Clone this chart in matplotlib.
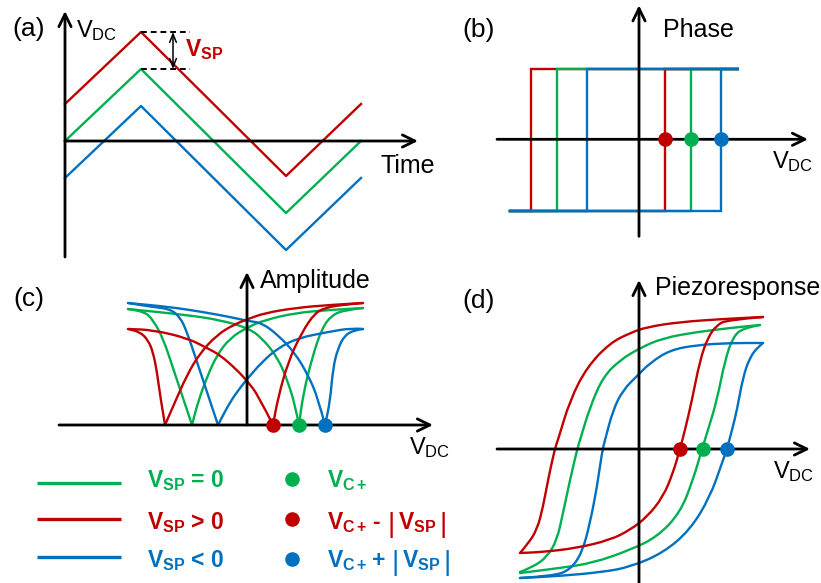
import matplotlib
matplotlib.use('Agg')
import matplotlib.pyplot as plt
from matplotlib.path import Path
from matplotlib.patches import PathPatch

plt.rcParams['font.family'] = ['Liberation Sans', 'DejaVu Sans']
plt.rcParams['mathtext.fontset'] = 'custom'
plt.rcParams['mathtext.rm'] = 'Liberation Sans'
plt.rcParams['mathtext.bf'] = 'Liberation Sans:bold'
plt.rcParams['mathtext.it'] = 'Liberation Sans:italic'
plt.rcParams['mathtext.sf'] = 'Liberation Sans'

W, H = 821, 583
RED, GREEN, BLUE = '#C00000', '#00B050', '#0070C0'

# ---------------- data (arbitrary units) ----------------
# (a) triangular DC waveform vs time
a_time = [0, 76, 221, 296]
a_green = [0, 72, -72, 0]
a_red = [37, 109, -35, 37]
a_blue = [-37, 35, -109, -37]

# (b) phase loops: switching voltages (left, right) and phase levels
b_sweep = [-129, 100]
b_levels = [-72, 70]
b_red_switch = [-108, 26]
b_green_switch = [-82, 52]
b_blue_switch = [-52, 82]

# (c) amplitude butterfly branches
c_green_a_v = [-119, -102, -94, -84, -74, -64, -55, -49, -40, -30, -17, 1, 18, 48, 81, 116]
c_green_a_amp = [116, 113, 105, 87, 57, 27, 0, 23, 48, 70, 87, 98, 105, 112, 115, 117]
c_green_b_v = [-119, -60, -27, 1, 15, 31, 41, 48, 52, 56, 65, 75, 85, 98, 116]
c_green_b_amp = [116, 110, 105, 97, 87, 67, 43, 20, 0, 30, 67, 97, 110, 115, 117]
c_red_a_v = [-119, -107, -99, -94, -90, -87, -82, -72, -60, -47, -30, -14, 1, 18, 48, 81, 116]
c_red_a_amp = [96, 93, 85, 73, 53, 30, 0, 23, 50, 72, 90, 100, 106, 112, 117, 120, 122]
c_red_b_v = [-119, -94, -60, -40, -27, -10, 1, 11, 26, 31, 41, 55, 68, 78, 93, 116]
c_red_b_amp = [96, 95, 87, 77, 70, 55, 43, 30, 0, 27, 63, 93, 112, 117, 120, 122]
c_blue_a_v = [-119, -94, -77, -67, -60, -50, -40, -29, -17, -7, 1, 15, 31, 51, 81, 105, 116]
c_blue_a_amp = [122, 118, 116, 108, 93, 63, 33, 0, 23, 37, 47, 63, 77, 87, 93, 97, 96]
c_blue_b_v = [-119, -77, -44, -17, 1, 15, 31, 48, 61, 71, 78, 83, 86, 91, 98, 108, 116]
c_blue_b_amp = [122, 118, 113, 108, 104, 102, 90, 72, 50, 27, 0, 23, 57, 77, 90, 95, 96]
c_dots = [26, 52, 78]

# (d) piezoresponse hysteresis loops
d_red_up_v = [124, 84, 41, 8, -9, -29, -52, -69, -81, -84, -91, -96, -102, -112, -119]
d_red_up_p = [132, 130, 127, 122, 116, 106, 82, 49, 9, 1, -31, -58, -81, -96, -104]
d_red_lo_v = [-119, -96, -62, -29, -9, 8, 24, 34, 41, 46, 53, 61, 69, 78, 88, 124]
d_red_lo_p = [-104, -103, -99, -91, -81, -68, -48, -24, 0, 19, 49, 89, 112, 124, 129, 132]
d_green_up_v = [121, 91, 58, 24, 1, -19, -36, -49, -59, -62, -69, -76, -82, -92, -106, -119]
d_green_up_p = [124, 121, 117, 111, 101, 89, 72, 42, 9, -1, -31, -64, -91, -108, -118, -123]
d_green_lo_v = [-119, -79, -46, -9, 18, 41, 54, 63, 69, 78, 86, 94, 104, 121]
d_green_lo_p = [-124, -119, -114, -101, -88, -64, -31, 0, 19, 49, 89, 112, 121, 124]
d_blue_up_v = [124, 91, 58, 31, 11, -1, -16, -26, -34, -37, -42, -49, -57, -69, -86, -119]
d_blue_up_p = [106, 106, 104, 99, 86, 74, 59, 39, 9, -3, -38, -74, -104, -121, -127, -129]
d_blue_lo_v = [-119, -79, -36, -9, 24, 51, 71, 83, 88, 93, 98, 104, 111, 119, 124]
d_blue_lo_p = [-129, -127, -123, -118, -104, -81, -48, -14, 0, 19, 39, 72, 92, 102, 106]
d_dots = [41, 64, 88]

legend_line_labels = [r'$\mathbf{V_{SP}}$ = 0', r'$\mathbf{V_{SP}}$ > 0', r'$\mathbf{V_{SP}}$ < 0']
legend_dot_ops = [None, '-', '+']          # V_C+ (op) |V_SP|
legend_colors = [GREEN, RED, BLUE]

# ---------------- figure ----------------
fig = plt.figure(figsize=(W / 100, H / 100), dpi=100)
renderer = fig.canvas.get_renderer()

LW = 1.7
AX_LW = 2.0
DOT_MS = 9.5
LABEL_FS = 18
PANEL_FS = 19
LEG_FS = 16.5
ARROW = dict(arrowstyle='->,head_length=0.45,head_width=0.22', lw=AX_LW, color='black',
             shrinkA=0, shrinkB=0, mutation_scale=20)


def panel_axes(ox, oy):
    ax = fig.add_axes([0, 0, 1, 1])
    ax.set_xlim(-ox, W - ox)
    ax.set_ylim(oy - H, oy)
    ax.axis('off')
    ax.patch.set_alpha(0)
    return ax


def ftext(x, y, s, **kw):
    kw.setdefault('va', 'baseline')
    kw.setdefault('ha', 'left')
    return fig.text(x / W, 1 - y / H, s, **kw)


def text_run(x, y, pieces, color):
    """Lay out text pieces left to right: (string, fontsize, weight, gap_before, dy)."""
    for s, fs, wt, gap, dy in pieces:
        x += gap
        t = ftext(x, y + dy, s, fontsize=fs, fontweight=wt, color=color)
        x += t.get_window_extent(renderer).width


def axis_arrows(ax, xspan, yspan):
    ax.annotate('', xy=(xspan[1], 0), xytext=(xspan[0], 0), arrowprops=ARROW)
    ax.annotate('', xy=(0, yspan[1]), xytext=(0, yspan[0]), arrowprops=ARROW)


def smooth_curve(ax, xs, ys, color, breaks=()):
    """Draw a smooth curve through the read points (quadratic Bezier rendering),
    keeping sharp corners at the given indices."""
    cuts = [0] + sorted(breaks) + [len(xs) - 1]
    for s, e in zip(cuts[:-1], cuts[1:]):
        pts = list(zip(xs[s:e + 1], ys[s:e + 1]))
        if len(pts) < 3:
            verts, codes = pts, [Path.MOVETO] + [Path.LINETO] * (len(pts) - 1)
        else:
            verts = [pts[0]]
            codes = [Path.MOVETO]
            m = ((pts[0][0] + pts[1][0]) / 2, (pts[0][1] + pts[1][1]) / 2)
            verts.append(m)
            codes.append(Path.LINETO)
            for i in range(1, len(pts) - 1):
                nxt = pts[i + 1] if i == len(pts) - 2 else (
                    (pts[i][0] + pts[i + 1][0]) / 2, (pts[i][1] + pts[i + 1][1]) / 2)
                verts += [pts[i], nxt]
                codes += [Path.CURVE3, Path.CURVE3]
        ax.add_patch(PathPatch(Path(verts, codes), fill=False, edgecolor=color,
                               lw=LW, capstyle='round', joinstyle='round'))


# (a)
ax = panel_axes(65, 141)
axis_arrows(ax, (0, 353), (-116, 130))
ax.plot(a_time, a_red, color=RED, lw=LW)
ax.plot(a_time, a_green, color=GREEN, lw=LW)
ax.plot(a_time, a_blue, color=BLUE, lw=LW)
ax.plot([a_time[1], 125], [a_red[1], a_red[1]], color='black', lw=1.4, ls=(0, (3, 2)))
ax.plot([a_time[1], 125], [a_green[1], a_green[1]], color='black', lw=1.4, ls=(0, (3, 2)))
ax.annotate('', xy=(108, a_red[1]), xytext=(108, a_green[1]),
            arrowprops=dict(arrowstyle='<->,head_length=0.5,head_width=0.2', lw=1.1,
                            color='black', shrinkA=0, shrinkB=0, mutation_scale=12))
ftext(12, 36, '(a)', fontsize=PANEL_FS)
ftext(76, 37, r'$\mathrm{V_{DC}}$', fontsize=17)
ftext(380, 173, 'Time', fontsize=LABEL_FS)
ftext(185, 56, r'$\mathbf{V_{SP}}$', fontsize=LEG_FS, color=RED)

# (b)
ax = panel_axes(639, 139.3)
axis_arrows(ax, (-142, 169), (-97, 134))
for sw, col in [(b_red_switch, RED), (b_green_switch, GREEN), (b_blue_switch, BLUE)]:
    xs = [b_sweep[0], sw[1], sw[1], b_sweep[1], sw[0], sw[0], b_sweep[0]]
    ys = [b_levels[0], b_levels[0], b_levels[1], b_levels[1], b_levels[1], b_levels[0], b_levels[0]]
    ax.plot(xs, ys, color=col, lw=LW, solid_joinstyle='miter')
    ax.plot([sw[1]], [0], 'o', color=col, ms=DOT_MS, zorder=5)
ftext(462, 37, '(b)', fontsize=PANEL_FS)
ftext(663, 37, 'Phase', fontsize=LABEL_FS)
ftext(772, 168, r'$\mathrm{V_{DC}}$', fontsize=17)

# (c)
ax = panel_axes(247, 425)
axis_arrows(ax, (-188, 186), (0, 153))
for v, a, col in [(c_green_a_v, c_green_a_amp, GREEN), (c_green_b_v, c_green_b_amp, GREEN),
                  (c_blue_a_v, c_blue_a_amp, BLUE), (c_blue_b_v, c_blue_b_amp, BLUE),
                  (c_red_a_v, c_red_a_amp, RED), (c_red_b_v, c_red_b_amp, RED)]:
    smooth_curve(ax, v, a, col, breaks=(a.index(0),))
for v, col in zip(c_dots, [RED, GREEN, BLUE]):
    ax.plot([v], [0], 'o', color=col, ms=DOT_MS, zorder=5)
ftext(13, 306, '(c)', fontsize=PANEL_FS)
ftext(260, 288, 'Amplitude', fontsize=LABEL_FS)
ftext(409, 454, r'$\mathrm{V_{DC}}$', fontsize=17)

# (d)
ax = panel_axes(639, 449)
axis_arrows(ax, (-142, 171), (-134, 169))
for v, p, col in [(d_green_up_v, d_green_up_p, GREEN), (d_green_lo_v, d_green_lo_p, GREEN),
                  (d_blue_up_v, d_blue_up_p, BLUE), (d_blue_lo_v, d_blue_lo_p, BLUE),
                  (d_red_up_v, d_red_up_p, RED), (d_red_lo_v, d_red_lo_p, RED)]:
    smooth_curve(ax, v, p, col)
for v, col in zip(d_dots, [RED, GREEN, BLUE]):
    ax.plot([v], [0], 'o', color=col, ms=DOT_MS, zorder=5)
ftext(462, 308, '(d)', fontsize=PANEL_FS)
ftext(655, 295, 'Piezoresponse', fontsize=LABEL_FS)
ftext(773, 478, r'$\mathrm{V_{DC}}$', fontsize=17)

# legend
lax = fig.add_axes([0, 0, 1, 1])
lax.set_xlim(0, W)
lax.set_ylim(H, 0)
lax.axis('off')
lax.patch.set_alpha(0)
line_rows = [483, 519, 557]
dot_rows = [479, 519, 559]
text_rows = [487, 529, 567]
for i, col in enumerate(legend_colors):
    lax.plot([37, 121], [line_rows[i], line_rows[i]], color=col, lw=2.4, solid_capstyle='butt')
    lax.plot([292], [dot_rows[i]], 'o', color=col, ms=DOT_MS)
    ftext(147, text_rows[i], legend_line_labels[i], fontsize=LEG_FS, fontweight='bold', color=col)
    pieces = [(r'$\mathbf{V_{C+}}$', LEG_FS, 'bold', 0, 0)]
    op = legend_dot_ops[i]
    if op is not None:
        pieces += [(op, LEG_FS, 'bold', 5, 0),
                   ('|', 20, 'normal', 8 if op == '-' else 6, 3),
                   (r'$\mathbf{V_{SP}}$', LEG_FS, 'bold', 3, 0),
                   ('|', 20, 'normal', 3, 3)]
    text_run(327, text_rows[i], pieces, col)

fig.savefig('out.png', dpi=100)
